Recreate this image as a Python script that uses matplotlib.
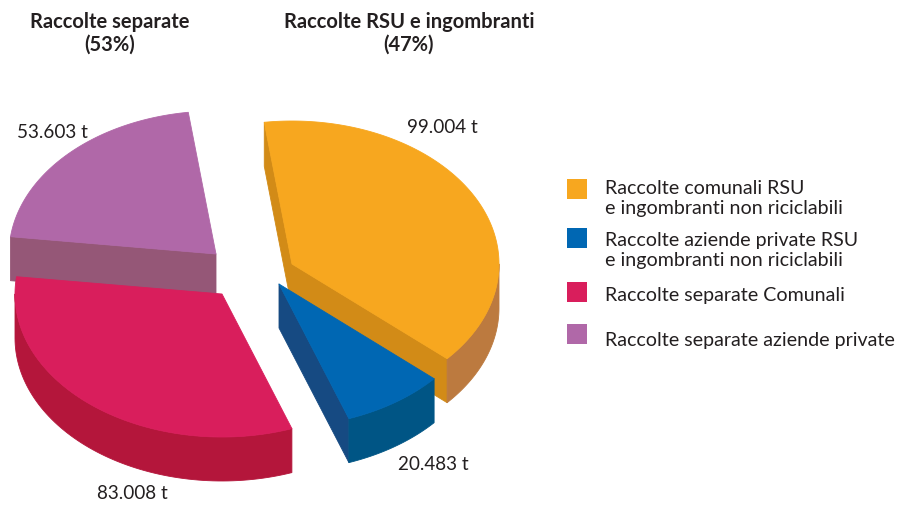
import numpy as np
import matplotlib
matplotlib.use("Agg")
import matplotlib.pyplot as plt
from matplotlib.patches import Polygon, Rectangle

# ---------------- data ----------------
categories = [
    "Raccolte comunali RSU\ne ingombranti non riciclabili",
    "Raccolte aziende private RSU\ne ingombranti non riciclabili",
    "Raccolte separate Comunali",
    "Raccolte separate aziende private",
]
values = [99.004, 20.483, 83.008, 53.603]          # tonnes (thousands)
group_names = ["Raccolte separate", "Raccolte RSU e ingombranti"]
group_members = [[2, 3], [0, 1]]

# ---------------- style ----------------
top_colors = ["#F7A71F", "#0067B3", "#D91E5C", "#B068A8"]
side_colors = ["#D28B17", "#164A82", "#A8163A", "#955777"]
outer_colors = ["#BC7A3F", "#005585", "#B4163B", "#8E4F80"]

W, H = 897, 506
CENTER = (250.0, 272.0)
RX, RY, DEPTH = 207.0, 143.0, 44.0
START_ANGLE = 97.7
# per-slice explode offsets (screen units)
EXPLODE = [(42, -7), (29, 13), (-28, 23), (-34, -17)]
DRAW_ORDER = [3, 0, 2, 1]
LABEL_POS = [(407, 127, "left"), (398, 465, "left"), (168, 494, "right"), (17, 132, "left")]
TITLE_POS = [(110, 22), (409, 22)]
LEGEND_X_BOX, LEGEND_X_TEXT = 567, 605
LEGEND_Y = [188, 240, 295, 340]
LEGEND_BOX_DY = [2, -1, -2, -5]

FONT = "Lato"
TXT = "#231F20"

fig = plt.figure(figsize=(W / 100, H / 100), dpi=100)
ax = fig.add_axes([0, 0, 1, 1])
ax.set_xlim(0, W)
ax.set_ylim(H, 0)
ax.axis("off")

total = sum(values)
angles = []
a = START_ANGLE
for v in values:
    span = v / total * 360.0
    angles.append((a, a - span))
    a -= span


def rim(c, th_deg, dz=0.0):
    th = np.radians(th_deg)
    return (c[0] + RX * np.cos(th), c[1] - RY * np.sin(th) + dz)


def add_poly(pts, color, z):
    ax.add_patch(Polygon(pts, closed=True, facecolor=color, edgecolor=color,
                         linewidth=0.6, joinstyle="round", zorder=z))


def visible_intervals(a0, a1):
    out = []
    for k in (-1, 0, 1):
        lo, hi = -180 + 360 * k, 0 + 360 * k
        s, e = min(a0, hi), max(a1, lo)
        if s > e:
            out.append((s, e))
    return out


for rank, i in enumerate(DRAW_ORDER):
    a0, a1 = angles[i]
    c = (CENTER[0] + EXPLODE[i][0], CENTER[1] + EXPLODE[i][1])
    z = 10 + rank * 5
    apex_top = c
    apex_bot = (c[0], c[1] + DEPTH)
    # radial side faces
    if np.cos(np.radians(a0)) < 0:
        p = rim(c, a0)
        add_poly([apex_top, p, (p[0], p[1] + DEPTH), apex_bot], side_colors[i], z)
    if np.cos(np.radians(a1)) > 0:
        p = rim(c, a1)
        add_poly([apex_top, p, (p[0], p[1] + DEPTH), apex_bot], side_colors[i], z)
    # outer curved face
    for s, e in visible_intervals(a0, a1):
        th = np.linspace(s, e, 80)
        topc = [rim(c, t) for t in th]
        botc = [rim(c, t, DEPTH) for t in th[::-1]]
        add_poly(topc + botc, outer_colors[i], z + 1)
    # top face
    th = np.linspace(a0, a1, 160)
    add_poly([apex_top] + [rim(c, t) for t in th], top_colors[i], z + 2)

# value labels
for i, v in enumerate(values):
    x, y, ha = LABEL_POS[i]
    ax.text(x, y, f"{v:.3f} t", ha=ha, va="center", fontsize=13.6,
            family=FONT, color=TXT)

# group titles
for g, name in enumerate(group_names):
    pct = round(sum(values[j] for j in group_members[g]) / total * 100)
    x, y = TITLE_POS[g]
    ax.text(x, y, name, ha="center", va="center", fontsize=14.5,
            fontweight="bold", family=FONT, color=TXT)
    ax.text(x, y + 23, f"({pct}%)", ha="center", va="center", fontsize=14.5,
            fontweight="bold", family=FONT, color=TXT)

# legend
for i, lab in enumerate(categories):
    y = LEGEND_Y[i]
    ax.add_patch(Rectangle((LEGEND_X_BOX, y + LEGEND_BOX_DY[i] - 10), 20, 20,
                           facecolor=top_colors[i], edgecolor="none", zorder=50))
    ax.text(LEGEND_X_TEXT, y - 8, lab, ha="left", va="top", fontsize=14.1,
            family=FONT, color=TXT, linespacing=1.2)

fig.savefig("out.png", dpi=100)
